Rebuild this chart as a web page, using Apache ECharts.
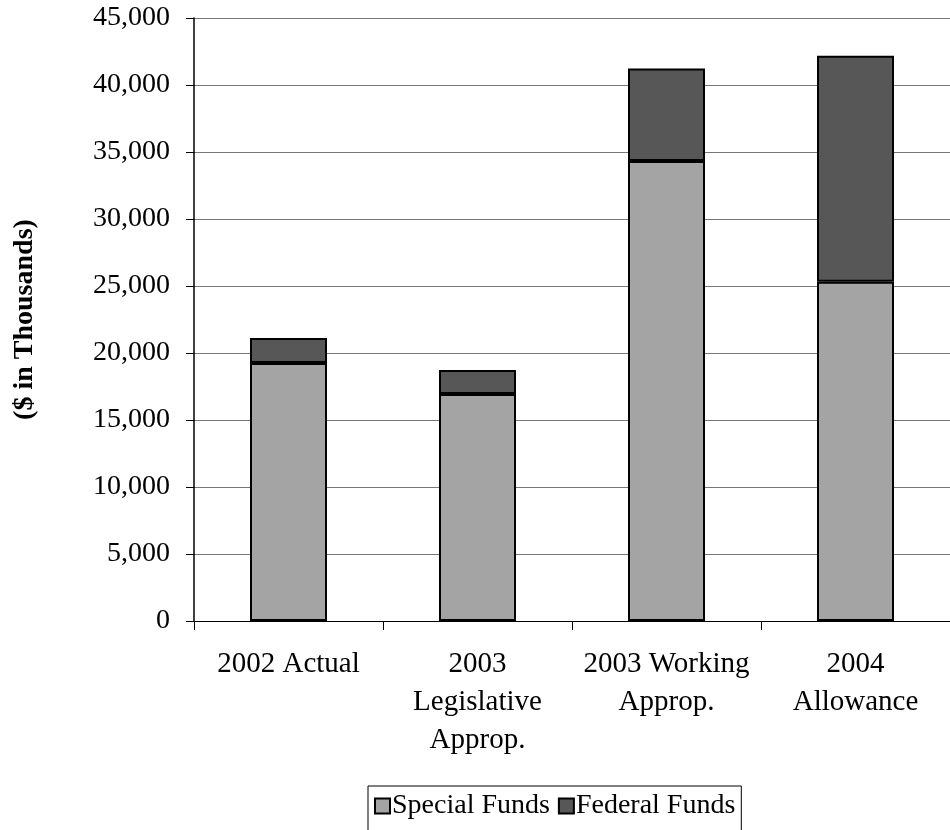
<!DOCTYPE html>
<html>
<head>
<meta charset="utf-8">
<script src="https://cdn.jsdelivr.net/npm/echarts@6/dist/echarts.min.js"></script>
<style>
html,body{margin:0;padding:0;background:#fff;}
#chart{width:950px;height:830px;}
</style>
</head>
<body>
<div id="chart"></div>
<script>
const categories = ['2002 Actual', '2003\nLegislative\nApprop.', '2003 Working\nApprop.', '2004\nAllowance'];
const specialFunds = [19250, 16940, 34330, 25320];
const federalFunds = [1870, 1790, 6910, 16860];
const yTicks = [0, 5000, 10000, 15000, 20000, 25000, 30000, 35000, 40000, 45000];

const font = "'Liberation Serif', 'Times New Roman', serif";
const chart = echarts.init(document.getElementById('chart'), null, {renderer: 'canvas'});
chart.setOption({
  animation: false,
  backgroundColor: '#fff',
  textStyle: {fontFamily: font},
  grid: {left: 194, top: 18, width: 760, height: 603, containLabel: false},
  legend: {
    left: 368, top: 786,
    data: ['Special Funds', 'Federal Funds'],
    icon: 'rect', itemWidth: 15, itemHeight: 15, itemGap: 8,
    borderColor: '#000', borderWidth: 1, padding: [6, 6, 16, 6],
    textStyle: {fontFamily: font, fontSize: 28, color: '#000', padding: [0, 0, 0, -3]}
  },
  xAxis: {
    type: 'category', data: categories,
    axisLine: {lineStyle: {color: '#000', width: 1}},
    axisTick: {show: true, length: 9, lineStyle: {color: '#000'}, alignWithLabel: false},
    axisLabel: {fontFamily: font, fontSize: 29, color: '#000', margin: 24, lineHeight: 38, interval: 0}
  },
  yAxis: {
    type: 'value', min: 0, max: 45000, interval: 5000,
    name: '($ in Thousands)', nameLocation: 'middle', nameGap: 155, nameRotate: 90,
    nameTextStyle: {fontFamily: font, fontSize: 28, fontWeight: 'bold', color: '#000'},
    axisLine: {show: true, lineStyle: {color: '#000', width: 1.5}},
    axisTick: {show: true, length: 8, lineStyle: {color: '#000'}},
    axisLabel: {fontFamily: font, fontSize: 28, color: '#000', margin: 24,
      formatter: v => v.toLocaleString('en-US')},
    splitLine: {show: true, lineStyle: {color: '#777', width: 1.2}}
  },
  series: [
    {name: 'Special Funds', type: 'bar', stack: 'total', data: specialFunds, barWidth: 77,
     itemStyle: {color: '#a4a4a4', borderColor: '#000', borderWidth: 2}},
    {name: 'Federal Funds', type: 'bar', stack: 'total', data: federalFunds, barWidth: 77,
     itemStyle: {color: '#575757', borderColor: '#000', borderWidth: 2}}
  ]
});
</script>
</body>
</html>
